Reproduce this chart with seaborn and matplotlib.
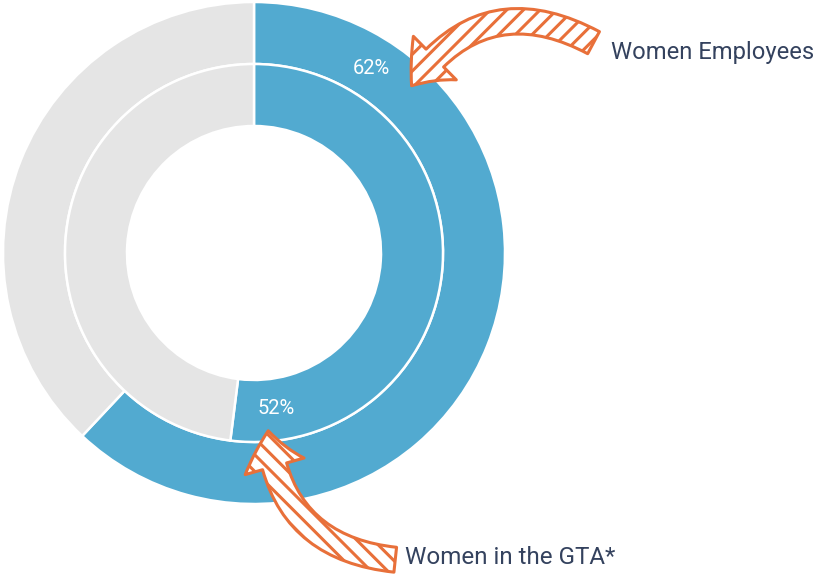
import numpy as np
import matplotlib
matplotlib.use("Agg")
import matplotlib.pyplot as plt
import seaborn as sns
from matplotlib.patches import FancyArrowPatch

sns.set_theme(style="white")
plt.rcParams['font.family'] = ['Roboto', 'DejaVu Sans']
plt.rcParams['hatch.linewidth'] = 2.2
plt.rcParams['hatch.color'] = "#E8703A"

# data
ring_names = ["Women Employees", "Women in the GTA*"]
women_share = [62, 52]

blue = "#52AAD0"
grey = "#E5E5E5"
orange = "#E8703A"
navy = "#34425E"

W, H = 817, 575
fig = plt.figure(figsize=(W / 100, H / 100), dpi=100)
ax = fig.add_axes([0, 0, 1, 1])

cx, cy = 254, H - 253
outer_r, ring_w = 251, 62
radii = [outer_r, outer_r - ring_w]

for share, r in zip(women_share, radii):
    ax.pie([share, 100 - share], radius=r, center=(cx, cy), startangle=90,
           counterclock=False, colors=[blue, grey],
           wedgeprops=dict(width=ring_w, edgecolor="white", linewidth=1.8))

# percentage labels inside the rings
label_angles = [32.5, 172]   # degrees clockwise from top
for share, r, ang in zip(women_share, radii, label_angles):
    rm = r - ring_w / 2 - 1
    a = np.deg2rad(ang)
    ax.text(cx + rm * np.sin(a), cy + rm * np.cos(a), f"{share}%",
            color="white", fontsize=14.5, fontweight="normal",
            ha="center", va="center")

# hand-drawn style arrows
arrows = [((596, H - 44), (410, H - 88), 0.45, "//"),
          ((398, H - 560), (268, H - 428), -0.42, "\\\\")]
for tail, head, rad, hatch in arrows:
    arr = FancyArrowPatch(tail, head, connectionstyle=f"arc3,rad={rad}",
                          arrowstyle="simple,head_length=26,head_width=44,tail_width=18",
                          mutation_scale=1, facecolor="white", edgecolor=orange,
                          linewidth=2.2, hatch=hatch, zorder=5)
    ax.add_patch(arr)

ax.text(611, H - 52, ring_names[0], color=navy, fontsize=17.1,
        fontweight="normal", ha="left", va="center")
ax.text(405, H - 557, ring_names[1], color=navy, fontsize=17.4,
        fontweight="normal", ha="left", va="center")

ax.set_xlim(0, W)
ax.set_ylim(0, H)
ax.set_aspect("auto")
ax.axis("off")

fig.savefig("out.png", dpi=100)
